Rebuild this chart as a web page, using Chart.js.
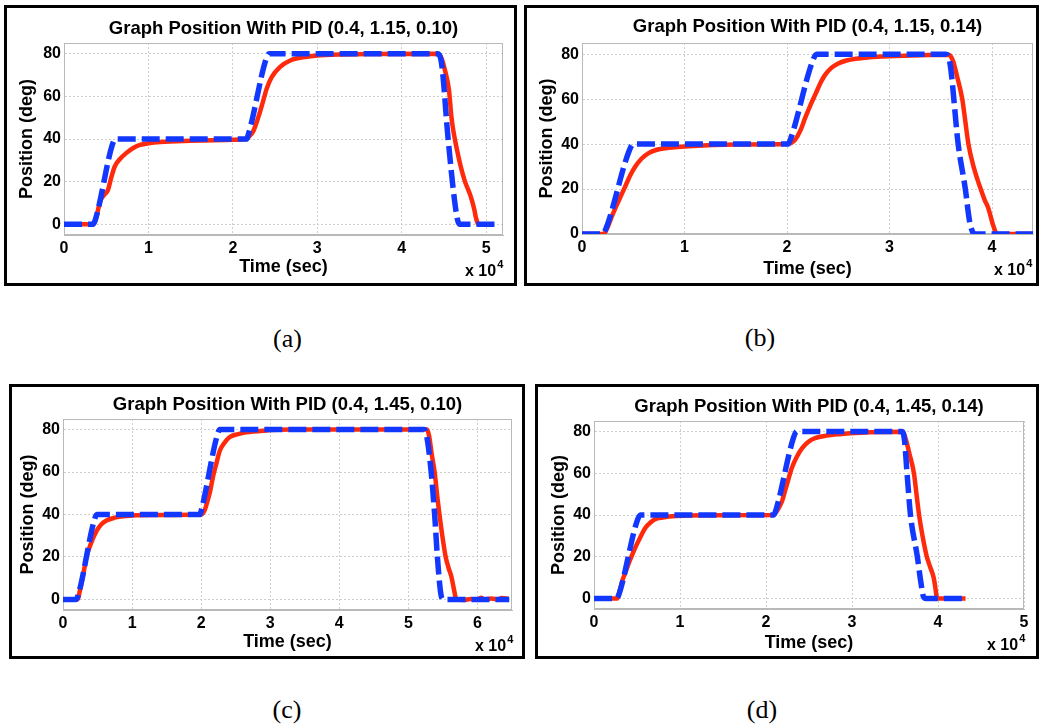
<!DOCTYPE html>
<html>
<head>
<meta charset="utf-8">
<script src="https://cdn.jsdelivr.net/npm/chart.js@4.4.1/dist/chart.umd.min.js"></script>
<style>
  html, body { margin: 0; padding: 0; background: #fff; }
  body { width: 1039px; height: 728px; position: relative; overflow: hidden; }
  .box { position: absolute; border: 3px solid #000; box-sizing: border-box; background: #fff; }
  .box canvas { position: absolute; left: 0; top: 0; }
  .exp { position: absolute; font-family: "Liberation Sans", Arial, sans-serif; font-weight: bold;
         font-size: 16px; line-height: 18px; white-space: nowrap; color: #000; }
  .exp sup { font-size: 11px; vertical-align: top; position: relative; top: -7px; margin-left: 1px; }
  .cap { position: absolute; width: 100px; text-align: center; color: #000;
         font-family: "Liberation Serif", "Times New Roman", serif; font-size: 26px; line-height: 30px; }
</style>
</head>
<body>
<script>
//// Data (time in seconds, position in degrees)

// (a) PID (0.4, 1.15, 0.10)
const refTimeA = [0, 3400, 3700, 5700, 6100, 21600, 21900, 23900, 24300, 44200, 44700, 45500, 46300, 46700, 47000, 51300];
const refPosA  = [0, 0, 2, 37, 40, 40, 43, 77, 80, 80, 76, 40, 10, 1, 0, 0];
const outTimeA = [0, 3500, 3800, 4300, 4800, 5200, 5600, 6000, 6600, 7400, 8200, 9000, 10000, 11400, 15000, 20000,
                  21600, 22000, 22400, 23000, 23600, 24000, 24600, 25600, 26800, 28800, 31000, 36000, 44300,
                  44700, 45200, 45600, 45900, 46200, 46600, 47000, 47500, 48000, 48300, 48600, 48800, 49100, 49300];
const outPosA  = [0, 0, 3, 11, 14, 16, 22, 27, 30.5, 33.5, 35.8, 37.2, 38, 38.6, 39.2, 39.7,
                  40, 41.5, 43.5, 50, 58, 63.5, 69, 73.8, 76.8, 78.6, 79.4, 79.8, 80,
                  78, 71, 63, 50, 42, 34, 27, 20, 15, 11.5, 7, 3, 0, 0];
const xTicksA = [0, 1, 2, 3, 4, 5];

// (b) PID (0.4, 1.15, 0.14)
const refTimeB = [0, 2000, 2300, 4600, 5000, 20100, 20400, 22500, 22900, 35500, 35900, 36700, 37400, 37800, 38100, 38400, 44000];
const refPosB  = [0, 0, 2, 37, 40, 40, 43, 77, 80, 80, 76, 40, 20, 6, 1, 0, 0];
const outTimeB = [0, 2100, 2500, 2900, 3300, 3600, 4200, 4700, 5200, 5800, 6500, 7300, 8100, 10400, 15000, 20000,
                  20400, 20800, 21300, 21800, 22300, 22800, 23300, 23700, 24300, 25000, 25800, 26700, 28000, 29900,
                  33000, 35800, 36200, 36600, 37100, 37400, 37700, 38200, 38600, 38900, 39300, 39600, 39800, 40100,
                  40500, 44000];
const outPosB  = [0, 0, 3, 7.7, 12, 15, 21, 26, 30, 33.5, 36, 37.5, 38.2, 39.1, 39.8, 40,
                  40.5, 42, 46, 52, 57.5, 62.5, 67.5, 70.7, 73.8, 75.9, 77.2, 78, 78.6, 79.1,
                  79.6, 79.8, 77, 70, 60, 50, 40, 30, 24, 20, 15, 12, 9, 4,
                  0, 0];
const xTicksB = [0, 1, 2, 3, 4];

// (c) PID (0.4, 1.45, 0.10)
const refTimeC = [0, 1900, 2200, 4500, 4900, 19800, 20100, 22300, 22700, 52300, 52700, 53300, 53800, 54200, 54600, 54800, 55100, 64600];
const refPosC  = [0, 0, 2, 37, 40, 40, 43, 77, 80, 80, 76, 60, 40, 20, 5, 1, 0, 0];
const outTimeC = [0, 2100, 2500, 3000, 3400, 4000, 4900, 5600, 6300, 7500, 8700, 13000, 20000,
                  20500, 20800, 21300, 21700, 22200, 22700, 23300, 24100, 25200, 26500, 29000, 33000, 52700,
                  53000, 53400, 53800, 54200, 54500, 55000, 55400, 55800, 56200, 56400, 56700, 56900,
                  58000, 59000, 60000, 60500, 61000, 62000, 63000, 63500, 64500];
const outPosC  = [0, 0, 5, 13, 20, 26, 32.5, 35.5, 37.2, 38.5, 39.2, 39.8, 40,
                  42, 45, 51, 57.6, 64, 70, 73.5, 76.4, 77.8, 78.7, 79.5, 80, 80,
                  77, 68, 60, 48, 40, 28, 20, 15, 11, 8, 3, 0,
                  -0.3, 0.2, -0.2, 0.8, 0, 0.4, 0, 0.6, 0.3];
const xTicksC = [0, 1, 2, 3, 4, 5, 6];

// (d) PID (0.4, 1.45, 0.14)
const refTimeD = [0, 2600, 2900, 5000, 5400, 20900, 21200, 23200, 23600, 35800, 36100, 36400, 36800, 37600, 38000, 38300, 38600, 43200];
const refPosD  = [0, 0, 2, 37, 40, 40, 43, 77, 80, 80, 76, 60, 40, 20, 8, 1, 0, 0];
const outTimeD = [0, 2700, 3000, 3300, 3700, 4000, 4400, 4800, 5400, 6000, 6600, 7100, 8000, 9500, 13000, 20900,
                  21200, 21500, 21900, 22200, 22600, 23000, 23600, 24200, 24900, 25700, 27000, 28500, 31000, 35900,
                  36200, 36700, 37200, 37500, 37800, 38200, 38700, 39100, 39500, 39700, 39900, 43200];
const outPosD  = [0, 0, 4, 8.6, 13, 16.5, 20.5, 24.4, 29.5, 34, 36.5, 38, 38.8, 39.5, 39.9, 40,
                  41.5, 43.5, 47, 51.4, 57, 62.5, 68, 72, 75, 76.8, 78, 78.7, 79.4, 79.8,
                  77, 69, 60, 50, 40, 30, 20, 15, 10, 5, 0, 0];
const xTicksD = [0, 1, 2, 3, 4, 5];

// y tick labels (deg) and x tick unit (x 10^4 sec)
const yTicks = [0, 20, 40, 60, 80];
const xUnit = 10000;

//// Layout of the four panels
const fontFam = '"Liberation Sans", Arial, Helvetica, sans-serif';
const blueColor = '#1238ff';
const redColor = '#ff2a0c';

const panels = [
    { box: [4, 5, 513, 281], title: 'Graph Position With PID (0.4, 1.15, 0.10)',
      refT: refTimeA, refY: refPosA, outT: outTimeA, outY: outPosA, xTicks: xTicksA,
      xMax: 52000, yMin: -5, yMax: 85, yW: 57, padR: 11, titlePad: [10.2, 3.2], xH: 48,
      xTitlePad: 5.2, yTitlePad: 9.2, exp: [465, 262], cap: [287.5, 339, '(a)'] },
    { box: [524, 5, 515, 281], title: 'Graph Position With PID (0.4, 1.15, 0.14)',
      refT: refTimeB, refY: refPosB, outT: outTimeB, outY: outPosB, xTicks: xTicksB,
      xMax: 44000, yMin: 0, yMax: 85, yW: 55, padR: 3, titlePad: [8, 5.4], xH: 49,
      xTitlePad: 3.2, yTitlePad: 9.2, exp: [994, 261], cap: [760, 338, '(b)'] },
    { box: [9, 384, 516, 275], title: 'Graph Position With PID (0.4, 1.45, 0.10)',
      refT: refTimeC, refY: refPosC, outT: outTimeC, outY: outPosC, xTicks: xTicksC,
      xMax: 65000, yMin: -5, yMax: 85, yW: 51, padR: 10, titlePad: [7.2, 3.2], xH: 46,
      xTitlePad: 3.5, yTitlePad: 4.9, exp: [475, 637], cap: [287, 710, '(c)'] },
    { box: [535, 384, 504, 275], title: 'Graph Position With PID (0.4, 1.45, 0.14)',
      refT: refTimeD, refY: refPosD, outT: outTimeD, outY: outPosD, xTicks: xTicksD,
      xMax: 50000, yMin: -5, yMax: 85, yW: 56, padR: 12, titlePad: [8.9, 3.5], xH: 47,
      xTitlePad: 2.2, yTitlePad: 9.9, exp: [987, 636], cap: [762, 710, '(d)'] }
];

// light grey box round the plot area, like matlab "box on"
const axesBox = {
    id: 'axesBox',
    beforeDatasetsDraw(chart) {
        const { ctx, chartArea: a } = chart;
        ctx.save();
        ctx.strokeStyle = '#b9b9b9';
        ctx.lineWidth = 1;
        ctx.strokeRect(Math.round(a.left) + 0.5, Math.round(a.top) + 0.5,
            Math.round(a.width) - 1, Math.round(a.height) - 1);
        ctx.restore();
    }
};

const toPoints = (ts, ys) => ts.map((t, i) => ({ x: t, y: ys[i] }));

const makePanel = (p) => {
    const [bx, by, bw, bh] = p.box;
    const box = document.createElement('div');
    box.className = 'box';
    box.style.left = bx + 'px';
    box.style.top = by + 'px';
    box.style.width = bw + 'px';
    box.style.height = bh + 'px';
    const canvas = document.createElement('canvas');
    canvas.width = bw - 6;
    canvas.height = bh - 6;
    canvas.style.width = (bw - 6) + 'px';
    canvas.style.height = (bh - 6) + 'px';
    box.appendChild(canvas);
    document.body.appendChild(box);

    const exp = document.createElement('div');
    exp.className = 'exp';
    exp.style.left = p.exp[0] + 'px';
    exp.style.top = p.exp[1] + 'px';
    exp.innerHTML = 'x 10<sup>4</sup>';
    document.body.appendChild(exp);

    const cap = document.createElement('div');
    cap.className = 'cap';
    cap.style.left = (p.cap[0] - 50) + 'px';
    cap.style.top = (p.cap[1] - 15) + 'px';
    cap.textContent = p.cap[2];
    document.body.appendChild(cap);

    new Chart(canvas, {
        type: 'line',
        data: {
            datasets: [{
                label: 'Reference',
                data: toPoints(p.refT, p.refY),
                borderColor: blueColor,
                borderWidth: 5.5,
                borderDash: [18, 6],
                borderCapStyle: 'butt',
                cubicInterpolationMode: 'monotone',
                pointRadius: 0
            }, {
                label: 'Position',
                data: toPoints(p.outT, p.outY),
                borderColor: redColor,
                borderWidth: 4.5,
                cubicInterpolationMode: 'monotone',
                pointRadius: 0
            }]
        },
        options: {
            responsive: false,
            animation: false,
            layout: { padding: { left: 0, right: p.padR, top: 0, bottom: 0 } },
            plugins: {
                legend: { display: false },
                tooltip: { enabled: false },
                title: {
                    display: true,
                    text: p.title,
                    fullSize: false,
                    color: '#000',
                    font: { family: fontFam, size: 18.5, weight: 'bold', lineHeight: 1.2 },
                    padding: { top: p.titlePad[0] - 0.3, bottom: p.titlePad[1] - 0.3 }
                }
            },
            scales: {
                x: {
                    type: 'linear',
                    min: 0,
                    max: p.xMax,
                    afterFit: (s) => { s.height = p.xH; },
                    afterBuildTicks: (s) => { s.ticks = p.xTicks.map(v => ({ value: v * xUnit })); },
                    grid: { color: '#cdcdcd', lineWidth: 1, drawTicks: false },
                    border: { color: '#b9b9b9', dash: [2, 2] },
                    ticks: {
                        autoSkip: false,
                        maxRotation: 0,
                        padding: 4,
                        color: '#000',
                        font: { family: fontFam, size: 16, weight: 'bold' },
                        callback: (v) => v / xUnit
                    },
                    title: {
                        display: true,
                        text: 'Time (sec)',
                        color: '#000',
                        font: { family: fontFam, size: 18, weight: 'bold', lineHeight: 1.2 },
                        padding: { top: 0, bottom: p.xTitlePad }
                    }
                },
                y: {
                    type: 'linear',
                    min: p.yMin,
                    max: p.yMax,
                    afterFit: (s) => { s.width = p.yW; },
                    afterBuildTicks: (s) => { s.ticks = yTicks.map(v => ({ value: v })); },
                    grid: { color: '#cdcdcd', lineWidth: 1, drawTicks: false },
                    border: { color: '#b9b9b9', dash: [2, 2] },
                    ticks: {
                        autoSkip: false,
                        padding: 3,
                        color: '#000',
                        font: { family: fontFam, size: 16, weight: 'bold' }
                    },
                    title: {
                        display: true,
                        text: 'Position (deg)',
                        color: '#000',
                        font: { family: fontFam, size: 18, weight: 'bold', lineHeight: 1.2 },
                        padding: { top: p.yTitlePad, bottom: 0 }
                    }
                }
            }
        },
        plugins: [axesBox]
    });
};

//// Executions state
window.onload = () => {
    panels.forEach(makePanel);
};
</script>
</body>
</html>
